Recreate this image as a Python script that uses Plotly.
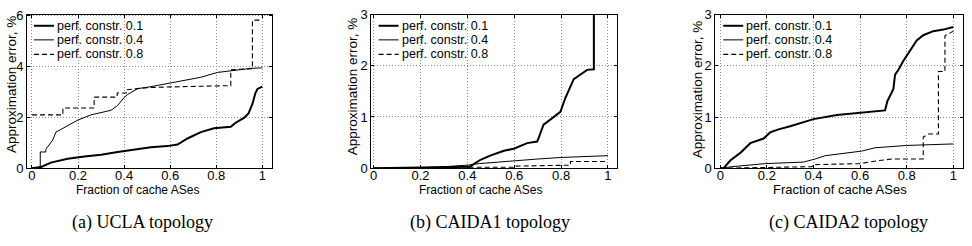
import plotly.graph_objects as go

W, H = 972, 246

# ---------------- data ----------------
series_names = ["perf. constr. 0.1", "perf. constr. 0.4", "perf. constr. 0.8"]
captions = ["(a) UCLA topology", "(b) CAIDA1 topology", "(c) CAIDA2 topology"]
x_ticks = [0, 0.2, 0.4, 0.6, 0.8, 1]
x_ticklabels = ["0", "0.2", "0.4", "0.6", "0.8", "1"]
y_ticks_a = [0, 2, 4, 6]
y_ticks_bc = [0, 1, 2, 3]

# (a) UCLA
ucla_x01 = [0, 0.02, 0.04, 0.082, 0.155, 0.227, 0.3, 0.372, 0.444, 0.516, 0.588, 0.632, 0.675, 0.733, 0.79,
            0.863, 0.884, 0.92, 0.94, 0.957, 0.97, 0.979, 1.0]
ucla_y01 = [0, 0.01, 0.05, 0.22, 0.37, 0.46, 0.53, 0.64, 0.74, 0.83, 0.87, 0.93, 1.17, 1.42, 1.57,
            1.63, 1.79, 1.98, 2.16, 2.53, 2.96, 3.12, 3.21]
ucla_x04 = [0, 0.03, 0.036, 0.036, 0.06, 0.06, 0.075, 0.09, 0.104, 0.125, 0.155, 0.198, 0.256, 0.3, 0.343,
            0.372, 0.4, 0.415, 0.458, 0.516, 0.588, 0.66, 0.733, 0.805, 0.877, 0.95, 1.0]
ucla_y04 = [0, 0.02, 0.05, 0.64, 0.64, 0.74, 0.93, 1.11, 1.42, 1.52, 1.67, 1.89, 2.1, 2.2, 2.28,
            2.47, 2.78, 2.9, 3.13, 3.21, 3.33, 3.46, 3.58, 3.77, 3.85, 3.93, 3.95]
ucla_x08 = [0, 0.134, 0.134, 0.27, 0.27, 0.37, 0.37, 0.41, 0.41, 0.5, 0.6, 0.863, 0.863, 0.957, 0.957, 1.0]
ucla_y08 = [2.1, 2.1, 2.37, 2.37, 2.8, 2.8, 2.96, 2.96, 3.09, 3.17, 3.2, 3.25, 3.87, 3.92, 5.83, 5.83]

# (b) CAIDA1
c1_x01 = [0, 0.2, 0.35, 0.41, 0.456, 0.5, 0.556, 0.598, 0.655, 0.698, 0.705, 0.725, 0.74, 0.77, 0.797,
          0.818, 0.835, 0.854, 0.883, 0.911, 0.94, 0.94, 1.0]
c1_y01 = [0, 0.01, 0.02, 0.03, 0.165, 0.25, 0.34, 0.38, 0.49, 0.52, 0.6, 0.85, 0.9, 1.0, 1.1,
          1.37, 1.55, 1.74, 1.83, 1.92, 1.93, 4.5, 4.5]
c1_x04 = [0, 0.2, 0.3, 0.4, 0.45, 0.5, 0.6, 0.7, 0.8, 0.9, 1.0]
c1_y04 = [0, 0.01, 0.03, 0.06, 0.09, 0.11, 0.15, 0.18, 0.21, 0.23, 0.245]
c1_x08 = [0, 0.4, 0.4, 0.6, 0.6, 0.8, 0.84, 0.84, 1.0]
c1_y08 = [0, 0.0, 0.02, 0.02, 0.04, 0.05, 0.06, 0.13, 0.13]

# (c) CAIDA2
c2_x01 = [0, 0.014, 0.043, 0.086, 0.129, 0.186, 0.214, 0.25, 0.3, 0.35, 0.4, 0.5, 0.6, 0.707, 0.717,
          0.729, 0.743, 0.75, 0.764, 0.786, 0.814, 0.843, 0.871, 0.914, 0.957, 1.0]
c2_y01 = [0, 0.0, 0.15, 0.3, 0.49, 0.58, 0.7, 0.76, 0.82, 0.885, 0.96, 1.04, 1.085, 1.13, 1.31,
          1.43, 1.55, 1.83, 1.92, 2.1, 2.29, 2.5, 2.6, 2.68, 2.71, 2.76]
c2_x04 = [0, 0.05, 0.193, 0.357, 0.407, 0.45, 0.607, 0.664, 0.8, 1.0]
c2_y04 = [0, 0.03, 0.09, 0.12, 0.18, 0.245, 0.335, 0.40, 0.445, 0.475]
c2_x08 = [0, 0.393, 0.4, 0.6, 0.68, 0.736, 0.871, 0.871, 0.893, 0.936, 0.936, 0.964, 0.964, 0.986, 1.0]
c2_y08 = [0.0, 0.03, 0.07, 0.09, 0.15, 0.18, 0.18, 0.61, 0.67, 0.67, 1.89, 1.89, 2.59, 2.65, 2.68]

panels = [
    [(ucla_x01, ucla_y01), (ucla_x04, ucla_y04), (ucla_x08, ucla_y08)],
    [(c1_x01, c1_y01), (c1_x04, c1_y04), (c1_x08, c1_y08)],
    [(c2_x01, c2_y01), (c2_x04, c2_y04), (c2_x08, c2_y08)],
]

# ---------------- styles / layout geometry (pixels) ----------------
styles = [dict(color="black", width=2), dict(color="black", width=1), dict(color="black", width=1.1, dash="5px,3px")]
box_left = [26, 370.7, 715]
box_right = [271.7, 616.7, 963.3]
box_top, box_bottom = 8, 171.7
x_ranges = [[-0.0217, 1.0438], [-0.0102, 1.039], [-0.0214, 1.0429]]
y_ranges = [[0, 6.05], [0, 3.0], [0, 3.005]]
y_ticks = [y_ticks_a, y_ticks_bc, y_ticks_bc]
ytitle_x = [10, 351.7, 696.7]
ytitle_y = [82, 85, 87.5]
xtitle_x = [136.5, 479.7, 839.5]
xtitle_size = [12, 12, 13]
xtitle_y = 194.5
caption_x = [142, 490, 848]
caption_y = 230
leg_sample = [(33, 53), (378, 398), (723, 743)]
leg_rows = [20, 35, 50.5]

FONT = "Liberation Sans, Arial, Helvetica, sans-serif"

def px(x):
    return x / W

def py(y):
    return (H - y) / H

fig = go.Figure()
layout = dict(
    width=W, height=H, margin=dict(l=0, r=0, t=0, b=0),
    paper_bgcolor="white", plot_bgcolor="white", showlegend=False,
    font=dict(family=FONT, size=13, color="black"),
)
shapes, annotations = [], []

for i, curves in enumerate(panels):
    sfx = "" if i == 0 else str(i + 1)
    for j, (xs, ys) in enumerate(curves):
        fig.add_trace(go.Scatter(x=xs, y=ys, mode="lines", name=series_names[j],
                                 line=styles[j], xaxis="x" + sfx, yaxis="y" + sfx,
                                 showlegend=False, hoverinfo="skip"))
    common = dict(showline=True, linecolor="black", linewidth=1, mirror="allticks",
                  ticks="inside", ticklen=3, tickcolor="black",
                  showgrid=True, gridcolor="#8a8a8a", griddash="1px,2px", gridwidth=1,
                  zeroline=False, tickfont=dict(family=FONT, size=13, color="black"))
    layout["xaxis" + sfx] = dict(domain=[px(box_left[i]), px(box_right[i])], range=x_ranges[i],
                                 anchor="y" + sfx, tickvals=x_ticks, ticktext=x_ticklabels,
                                 ticklabelstandoff=-5, **common)
    layout["yaxis" + sfx] = dict(domain=[py(box_bottom), py(box_top)], range=y_ranges[i],
                                 anchor="x" + sfx, tickvals=y_ticks[i], **common)
    # axis titles
    annotations.append(dict(text="Fraction of cache ASes", x=px(xtitle_x[i]), y=py(xtitle_y),
                            xref="paper", yref="paper", showarrow=False, xanchor="center", yanchor="middle",
                            borderpad=0,
                            font=dict(family=FONT, size=xtitle_size[i], color="black")))
    annotations.append(dict(text="Approximation error, %", x=px(ytitle_x[i]), y=py(ytitle_y[i]),
                            xref="paper", yref="paper", showarrow=False, textangle=-90,
                            xanchor="center", yanchor="middle",
                            font=dict(family=FONT, size=13.5, color="black")))
    annotations.append(dict(text=captions[i], x=px(caption_x[i]), y=py(caption_y),
                            xref="paper", yref="paper", showarrow=False, xanchor="center", yanchor="middle",
                            font=dict(family="Liberation Serif, Times New Roman, serif", size=18, color="black")))
    # legend (white box, samples, labels)
    s0, s1 = leg_sample[i]
    shapes.append(dict(type="rect", xref="paper", yref="paper", layer="between",
                       x0=px(box_left[i] + 1), x1=px(s1 + 94), y0=py(59), y1=py(box_top + 1),
                       fillcolor="white", line=dict(width=0)))
    for j, ry in enumerate(leg_rows):
        shapes.append(dict(type="line", xref="paper", yref="paper", layer="above",
                           x0=px(s0), x1=px(s1), y0=py(ry), y1=py(ry), line=styles[j]))
        annotations.append(dict(text=series_names[j], x=px(s1 + 2), y=py(ry), xref="paper", yref="paper",
                                showarrow=False, xanchor="left", yanchor="middle", borderpad=0,
                                font=dict(family=FONT, size=12.5, color="black")))

layout["shapes"] = shapes
layout["annotations"] = annotations
fig.update_layout(**layout)
fig.write_html("out.html")
